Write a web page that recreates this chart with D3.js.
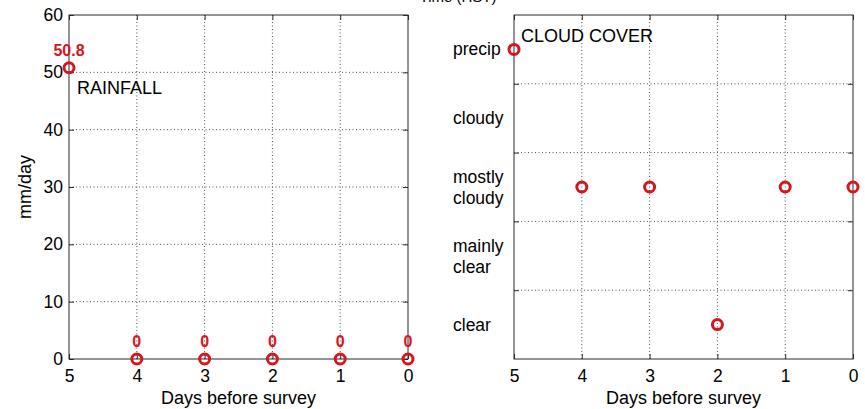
<!DOCTYPE html>
<html><head><meta charset="utf-8">
<script src="https://cdn.jsdelivr.net/npm/d3@7"></script>
<style>
html,body{margin:0;padding:0;background:#fff;}
svg{display:block;font-family:"Liberation Sans",Arial,sans-serif;}
</style></head>
<body><svg id="c" width="865" height="409"></svg>
<script>
// ---- data ----
const days = [5, 4, 3, 2, 1, 0];
const rainfall = [50.8, 0, 0, 0, 0, 0];
const rainLabels = ["50.8", "0", "0", "0", "0", "0"];
const cloudCategories = ["clear", "mainly clear", "mostly cloudy", "cloudy", "precip"];
const cloudValues = ["precip", "mostly cloudy", "mostly cloudy", "clear", "mostly cloudy", "mostly cloudy"];
const xTicks = [5, 4, 3, 2, 1, 0];
const rainTicks = [0, 10, 20, 30, 40, 50, 60];
const xLabel = "Days before survey";
const rainYLabel = "mm/day";
const figTitle = "Time (HST)";

const svg = d3.select("#c");
const RED = "#d8141c";
const AX = "#2a2a2a";
const GRID = "#505050";

function box(g, x0, x1, y0, y1) {
  g.append("rect").attr("x", x0).attr("y", y0).attr("width", x1 - x0).attr("height", y1 - y0)
    .attr("fill", "none").attr("stroke", AX).attr("stroke-width", 1);
}

// ===== left: rainfall =====
const L = {x0: 69, x1: 408, y0: 15, y1: 359};
const xL = d3.scaleLinear().domain([5, 0]).range([L.x0, L.x1]);
const yL = d3.scaleLinear().domain([0, 60]).range([L.y1, L.y0]);
const gL = svg.append("g");

// grid
gL.selectAll(".vg").data(xTicks.filter(d => d > 0 && d < 5)).enter().append("line")
  .attr("x1", d => xL(d)).attr("x2", d => xL(d)).attr("y1", L.y0).attr("y2", L.y1)
  .attr("stroke", GRID).attr("stroke-width", 1).attr("stroke-dasharray", "1,2.5");
gL.selectAll(".hg").data(rainTicks.filter(d => d > 0 && d < 60)).enter().append("line")
  .attr("y1", d => yL(d)).attr("y2", d => yL(d)).attr("x1", L.x0).attr("x2", L.x1)
  .attr("stroke", GRID).attr("stroke-width", 1).attr("stroke-dasharray", "1,2.5");

function styleAxis(sel, fs) {
  sel.select(".domain").remove();
  sel.selectAll(".tick line").attr("stroke", AX);
  sel.selectAll(".tick text").attr("fill", "#000").attr("font-size", fs)
    .attr("font-family", "Liberation Sans, Arial, sans-serif");
}

gL.append("g").attr("transform", `translate(0,${L.y1})`)
  .call(d3.axisBottom(xL).tickValues(xTicks).tickFormat(d3.format("d")).tickSize(-5).tickPadding(11))
  .call(s => styleAxis(s, 17.5));
gL.append("g").attr("transform", `translate(0,${L.y0})`)
  .call(d3.axisTop(xL).tickValues(xTicks).tickFormat("").tickSize(-5))
  .call(s => styleAxis(s, 17.5));
gL.append("g").attr("transform", `translate(${L.x0},0)`)
  .call(d3.axisLeft(yL).tickValues(rainTicks).tickFormat(d3.format("d")).tickSize(-5).tickPadding(6))
  .call(s => styleAxis(s, 17.5));
gL.append("g").attr("transform", `translate(${L.x1},0)`)
  .call(d3.axisRight(yL).tickValues(rainTicks).tickFormat("").tickSize(-5))
  .call(s => styleAxis(s, 17.5));
box(gL, L.x0, L.x1, L.y0, L.y1);

gL.append("text").attr("x", (L.x0 + L.x1) / 2).attr("y", 404).attr("text-anchor", "middle")
  .attr("font-size", 18).text(xLabel);
gL.append("text").attr("transform", `translate(31,${(L.y0 + L.y1) / 2}) rotate(-90)`)
  .attr("text-anchor", "middle").attr("font-size", 18).text(rainYLabel);
gL.append("text").attr("x", 77).attr("y", 94).attr("font-size", 18).text("RAINFALL");

gL.selectAll(".pt").data(days).enter().append("circle")
  .attr("cx", d => xL(d)).attr("cy", (d, i) => yL(rainfall[i])).attr("r", 5)
  .attr("fill", "none").attr("stroke", RED).attr("stroke-width", 3);
gL.selectAll(".lb").data(days).enter().append("text")
  .attr("x", d => xL(d)).attr("y", (d, i) => yL(rainfall[i] + 3) + 5.5)
  .attr("text-anchor", "middle").attr("font-size", 16).attr("font-weight", "bold")
  .attr("fill", RED).text((d, i) => rainLabels[i]);

// ===== right: cloud cover =====
const R = {x0: 514, x1: 853, y0: 15, y1: 359};
const xR = d3.scaleLinear().domain([5, 0]).range([R.x0, R.x1]);
const yR = d3.scaleLinear().domain([0, cloudCategories.length]).range([R.y1, R.y0]);
const catY = c => yR(cloudCategories.indexOf(c) + 0.5);
const bounds = d3.range(1, cloudCategories.length);
const gR = svg.append("g");

gR.selectAll(".vg").data(xTicks.filter(d => d > 0 && d < 5)).enter().append("line")
  .attr("x1", d => xR(d)).attr("x2", d => xR(d)).attr("y1", R.y0).attr("y2", R.y1)
  .attr("stroke", GRID).attr("stroke-width", 1).attr("stroke-dasharray", "1,2.5");
gR.selectAll(".hg").data(bounds).enter().append("line")
  .attr("y1", d => yR(d)).attr("y2", d => yR(d)).attr("x1", R.x0).attr("x2", R.x1)
  .attr("stroke", GRID).attr("stroke-width", 1).attr("stroke-dasharray", "1,2.5");

gR.append("g").attr("transform", `translate(0,${R.y1})`)
  .call(d3.axisBottom(xR).tickValues(xTicks).tickFormat(d3.format("d")).tickSize(-5).tickPadding(11))
  .call(s => styleAxis(s, 17.5));
gR.append("g").attr("transform", `translate(0,${R.y0})`)
  .call(d3.axisTop(xR).tickValues(xTicks).tickFormat("").tickSize(-5))
  .call(s => styleAxis(s, 17.5));
gR.append("g").attr("transform", `translate(${R.x0},0)`)
  .call(d3.axisLeft(yR).tickValues(bounds).tickFormat("").tickSize(-5))
  .call(s => styleAxis(s, 17.5));
gR.append("g").attr("transform", `translate(${R.x1},0)`)
  .call(d3.axisRight(yR).tickValues(bounds).tickFormat("").tickSize(-5))
  .call(s => styleAxis(s, 17.5));
box(gR, R.x0, R.x1, R.y0, R.y1);

// category labels (left aligned)
cloudCategories.forEach(c => {
  const words = c.split(" ");
  const t = gR.append("text").attr("x", 453).attr("font-size", 17.5).attr("fill", "#000");
  if (words.length === 1) {
    t.attr("y", catY(c) + 6).text(c);
  } else {
    words.forEach((w, i) => {
      t.append("tspan").attr("x", 453).attr("y", catY(c) - 4 + i * 21).text(w);
    });
  }
});

gR.append("text").attr("x", (R.x0 + R.x1) / 2).attr("y", 404).attr("text-anchor", "middle")
  .attr("font-size", 18).text(xLabel);
gR.append("text").attr("x", 521).attr("y", 42).attr("font-size", 18).text("CLOUD COVER");

gR.selectAll(".pt").data(days).enter().append("circle")
  .attr("cx", d => xR(d)).attr("cy", (d, i) => catY(cloudValues[i])).attr("r", 5)
  .attr("fill", "none").attr("stroke", RED).attr("stroke-width", 3);

// figure title, cut off at the top edge as in the reference
svg.append("text").attr("x", 458).attr("y", 2).attr("text-anchor", "middle")
  .attr("font-size", 15).text(figTitle);
</script>
</body></html>
